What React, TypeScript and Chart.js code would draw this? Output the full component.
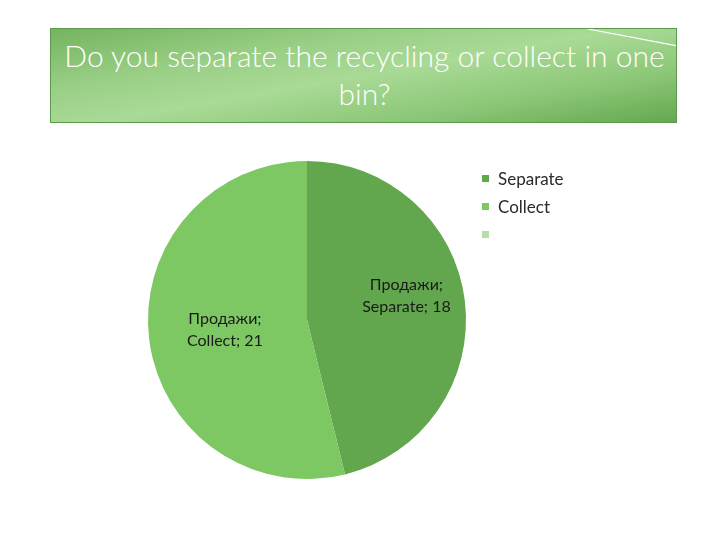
import React, { useEffect, useRef } from "react";
import { Chart, registerables } from "chart.js";

Chart.register(...registerables);

const titleText = "Do you separate the recycling or collect in one bin?";
const categories = ["Separate", "Collect", ""];
const values = [18, 21, 0];
const seriesName = "Продажи";
const sliceColors = ["#62a74d", "#7dc862", "#b6dea6"];
const labelRadius = [0.63, 0.52, 0.5];
const labelShiftY = [-12, 0, 0];

const labelPlugin = {
  id: "sliceLabels",
  afterDatasetsDraw(chart: any) {
    const ctx = chart.ctx;
    const meta = chart.getDatasetMeta(0);
    ctx.save();
    ctx.font = "16px Lato";
    ctx.fillStyle = "#1a1a1a";
    ctx.textAlign = "center";
    ctx.textBaseline = "middle";
    meta.data.forEach((arc: any, i: number) => {
      const v = values[i];
      if (!v) return;
      const mid = (arc.startAngle + arc.endAngle) / 2;
      const r = arc.outerRadius * labelRadius[i];
      const x = arc.x + Math.cos(mid) * r;
      const y = arc.y + Math.sin(mid) * r + labelShiftY[i];
      ctx.fillText(seriesName + ";", x, y - 11);
      ctx.fillText(categories[i] + "; " + v, x, y + 11);
    });
    ctx.restore();
  },
};

export default function App() {
  const ref = useRef<HTMLCanvasElement>(null);
  useEffect(() => {
    if (!ref.current) return;
    const chart = new Chart(ref.current, {
      type: "pie",
      data: {
        labels: categories,
        datasets: [
          {
            label: seriesName,
            data: values,
            backgroundColor: sliceColors,
            borderWidth: 0,
          },
        ],
      },
      options: {
        responsive: false,
        animation: false,
        layout: { padding: { left: 148, right: 254, top: 161, bottom: 61 } },
        plugins: {
          legend: { display: false },
          tooltip: { enabled: false },
          title: { display: false },
        },
      },
      plugins: [labelPlugin],
    });
    return () => chart.destroy();
  }, []);

  return (
    <div style={{ position: "fixed", left: 0, top: 0, width: 720, height: 540, background: "#fff", overflow: "hidden" }}>
      <div
        style={{
          position: "absolute",
          left: 50,
          top: 28,
          width: 627,
          height: 95,
          boxSizing: "border-box",
          border: "1px solid #5e9a4c",
          background:
            "linear-gradient(170deg, #74b45f 0%, #9acf86 30%, #a9da96 50%, #8cc777 75%, #64a851 100%)",
          overflow: "hidden",
        }}
      >
        <svg width={627} height={95} style={{ position: "absolute", left: 0, top: 0 }}>
          <line x1={537} y1={0} x2={627} y2={17} stroke="#ffffff" strokeWidth={1.2} />
        </svg>
        <div
          style={{
            position: "absolute",
            left: 3,
            top: 7,
            width: 621,
            textAlign: "center",
            color: "#ffffff",
            fontFamily: "Lato, sans-serif",
            fontWeight: 300,
            fontSize: 30,
            lineHeight: "38px",
          }}
        >
          {titleText}
        </div>
      </div>
      <canvas ref={ref} width={720} height={540} style={{ position: "absolute", left: 0, top: 0 }} />
      <div style={{ position: "absolute", left: 482, top: 164, fontFamily: "Lato, sans-serif", fontSize: 17, color: "#2a2a2a" }}>
        {categories.map((c, i) => (
          <div key={i} style={{ display: "flex", alignItems: "center", height: 28 }}>
            <span style={{ display: "inline-block", width: 7, height: 7, background: sliceColors[i], marginRight: 9 }} />
            <span>{c}</span>
          </div>
        ))}
      </div>
    </div>
  );
}
